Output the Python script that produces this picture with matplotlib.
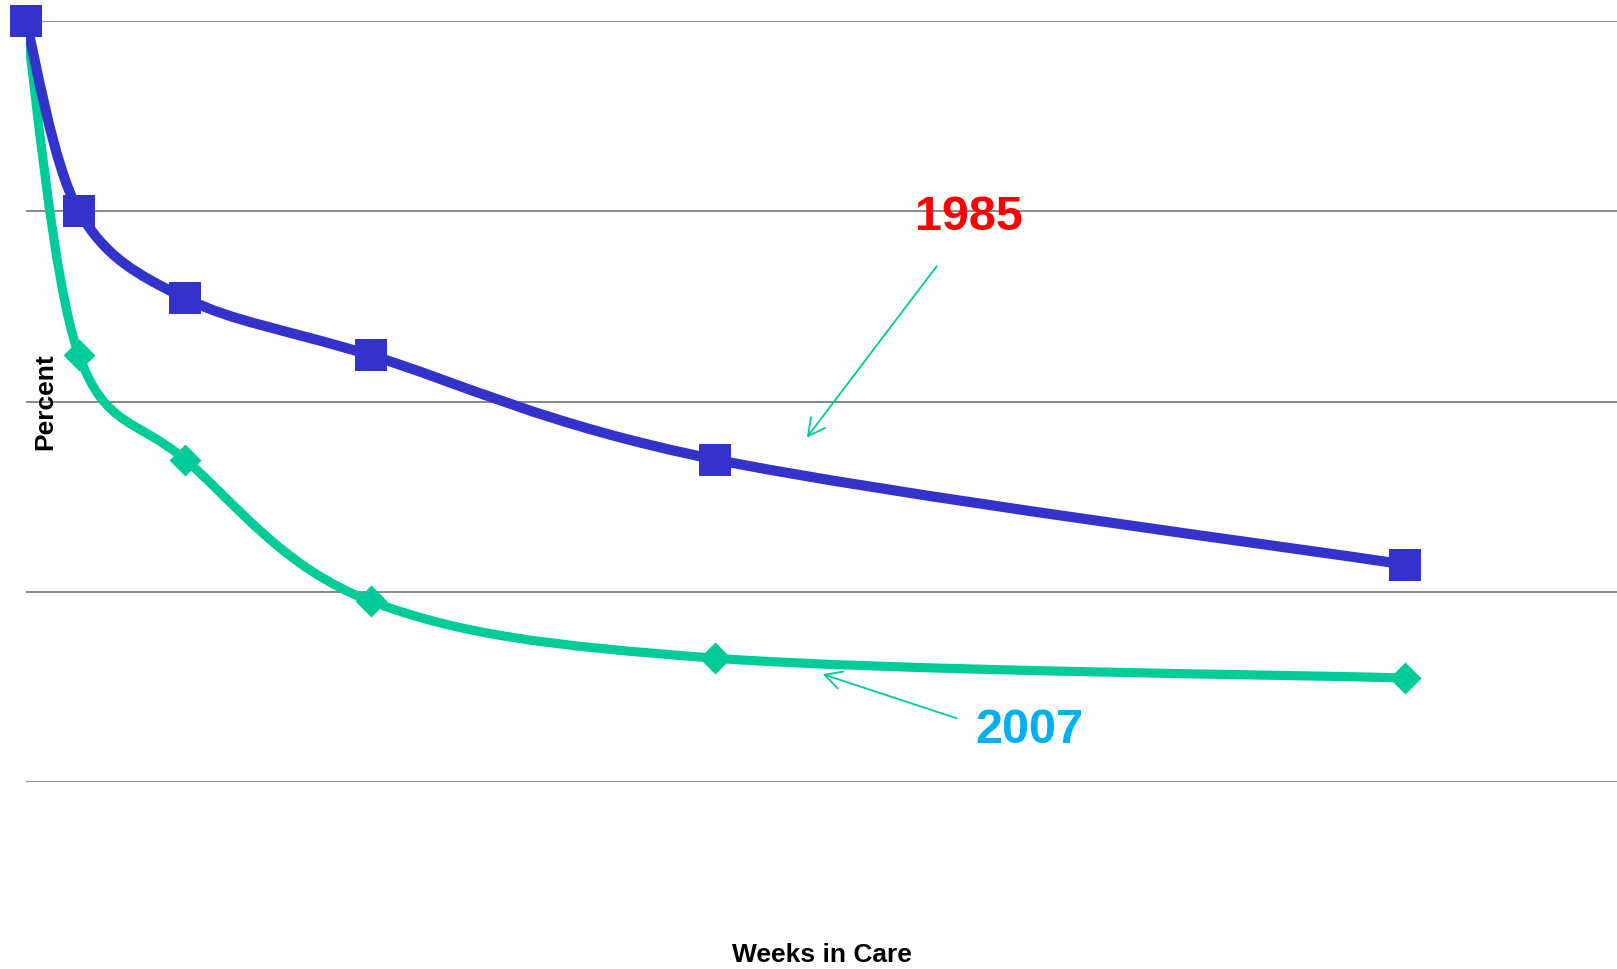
import numpy as np
import matplotlib
matplotlib.use("Agg")
import matplotlib.pyplot as plt
from matplotlib.path import Path
from matplotlib.patches import PathPatch

# ---- data ----
weeks = [0, 4, 12, 26, 52, 104]
pct_1985 = [100, 75, 63.6, 56.1, 42.4, 28.6]
pct_2007 = [100, 56.1, 42.4, 23.8, 16.3, 13.7]
grid_levels = [0, 25, 50, 75, 100]
label_1985 = "1985"
label_2007 = "2007"
x_label = "Weeks in Care"
y_label = "Percent"

BLUE = "#3333CC"
GREEN = "#00CC99"

plt.rcParams['font.family'] = ['Liberation Sans', 'DejaVu Sans']


def smooth_path(xs, ys):
    """Catmull-Rom style cubic Bezier path through the points (like Excel smoothing)."""
    P = np.column_stack([xs, ys]).astype(float)
    n = len(P)
    verts = [tuple(P[0])]
    codes = [Path.MOVETO]
    for i in range(n - 1):
        p0 = P[i - 1] if i > 0 else P[i]
        p1 = P[i]
        p2 = P[i + 1]
        p3 = P[i + 2] if i + 2 < n else P[i + 1]
        c1 = p1 + (p2 - p0) / 6.0
        c2 = p2 - (p3 - p1) / 6.0
        verts += [tuple(c1), tuple(c2), tuple(p2)]
        codes += [Path.CURVE4] * 3
    return Path(verts, codes)


fig = plt.figure(figsize=(16.17, 9.70), dpi=100)
ax = fig.add_axes([0.016, 0.1925, 0.984, 0.7848])
ax.set_xlim(0, 120)
ax.set_ylim(0, 100)

for lv in grid_levels:
    ax.axhline(lv, color="#888888", lw=1.4, zorder=1)

# lines
ax.add_patch(PathPatch(smooth_path(weeks, pct_2007), facecolor="none",
                       edgecolor=GREEN, lw=6.6, zorder=3, capstyle='round',
                       joinstyle='round'))
ax.add_patch(PathPatch(smooth_path(weeks, pct_1985), facecolor="none",
                       edgecolor=BLUE, lw=7.3, zorder=4, capstyle='round',
                       joinstyle='round'))

diamond = [(0, 1), (1, 0), (0, -1), (-1, 0), (0, 1)]
ax.plot(weeks, pct_2007, linestyle="none", marker=diamond, markersize=23,
        color=GREEN, markeredgewidth=0, zorder=5, clip_on=False)
ax.plot(weeks, pct_1985, linestyle="none", marker="s", markersize=22.5,
        color=BLUE, markeredgewidth=0, zorder=6, clip_on=False)

# labels & arrows
ax.text(71.1, 74.3, label_1985, color="#FF0000", fontsize=35, fontweight="bold",
        ha="center", va="center", zorder=7)
ax.text(75.7, 6.9, label_2007, color="#00B0F0", fontsize=35, fontweight="bold",
        ha="center", va="center", zorder=7)

arrow_kw = dict(arrowstyle="->,head_length=0.6,head_width=0.32", color=GREEN,
                lw=1.3, shrinkA=0, shrinkB=0, mutation_scale=20)
ax.annotate("", xy=(58.9, 45.3), xytext=(68.7, 67.8), arrowprops=arrow_kw, zorder=7)
ax.annotate("", xy=(60.1, 14.2), xytext=(70.2, 8.4), arrowprops=arrow_kw, zorder=7)

for s in ax.spines.values():
    s.set_visible(False)
ax.set_xticks([])
ax.set_yticks([])

fig.text(45.4 / 1617, 1 - 402 / 970, y_label, rotation=90, fontsize=19,
         fontweight="bold", ha="center", va="center")
fig.text(822 / 1617, 1 - 955 / 970, x_label, fontsize=19,
         fontweight="bold", ha="center", va="center")

fig.savefig("out.png", dpi=100, facecolor="white")
